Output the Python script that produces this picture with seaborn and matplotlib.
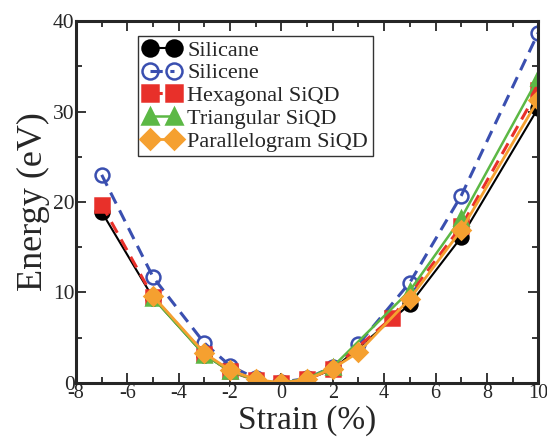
import numpy as np
import pandas as pd
import matplotlib
matplotlib.use("Agg")
import matplotlib.pyplot as plt
import seaborn as sns
from matplotlib.ticker import MultipleLocator

sns.set_style("ticks")
plt.rcParams['font.family'] = ['Liberation Serif', 'DejaVu Serif']
plt.rcParams['axes.unicode_minus'] = False

# Данные
silicane_x = [-7, -5, -3, -2, -1, 0, 1, 2, 5, 7, 10]
silicane_y = [18.9, 9.4, 3.1, 1.3, 0.3, 0.0, 0.4, 1.5, 8.7, 16.1, 30.4]

silicene_x = [-7, -5, -3, -2, -1, 0, 1, 2, 3, 5, 7, 10]
silicene_y = [23.0, 11.7, 4.4, 1.9, 0.5, 0.1, 0.5, 1.8, 4.3, 11.1, 20.7, 38.7]

hexagonal_x = [-7, -5, -3, -2, -1, 0, 1, 2, 4.3, 7, 10]
hexagonal_y = [19.7, 9.5, 3.2, 1.3, 0.3, 0.0, 0.4, 1.6, 7.2, 17.3, 32.4]

triangular_x = [-5, -3, -2, -1, 0, 1, 2, 5, 7, 10]
triangular_y = [9.4, 3.1, 1.3, 0.3, 0.0, 0.5, 1.8, 10.2, 18.2, 33.7]

parallelogram_x = [-5, -3, -2, -1, 0, 1, 2, 3, 5, 7, 10]
parallelogram_y = [9.6, 3.3, 1.4, 0.4, 0.0, 0.4, 1.6, 3.4, 9.3, 16.9, 31.3]

series = [
    ("Silicane", silicane_x, silicane_y, "black", "-", 1.5, "o", "black"),
    ("Silicene", silicene_x, silicene_y, "#3a4fb0", (0, (4, 2.5)), 2.2, "o", "none"),
    ("Hexagonal SiQD", hexagonal_x, hexagonal_y, "#e8302a", (0, (4, 2.5)), 2.2, "s", "#e8302a"),
    ("Triangular SiQD", triangular_x, triangular_y, "#5cb845", "-", 1.8, "^", "#5cb845"),
    ("Parallelogram SiQD", parallelogram_x, parallelogram_y, "#f5a030", "-", 2.0, "D", "#f5a030"),
]

fig = plt.figure(figsize=(5.47, 4.38), dpi=100)
ax = fig.add_axes([0.139, 0.1256, 0.845, 0.8264])

for name, xs, ys, col, ls, lw, mk, fc in series:
    df = pd.DataFrame({"x": xs, "y": ys})
    ms = 9 if mk == "D" else 10
    sns.lineplot(data=df, x="x", y="y", ax=ax, color=col, linestyle=ls, linewidth=lw,
                 marker=mk, markersize=ms, markerfacecolor=fc, markeredgecolor=col,
                 markeredgewidth=1.8, sort=False, label=name)

ax.set_xlim(-8, 10)
ax.set_ylim(0, 40)
ax.xaxis.set_major_locator(MultipleLocator(2))
ax.xaxis.set_minor_locator(MultipleLocator(1))
ax.yaxis.set_major_locator(MultipleLocator(10))
ax.yaxis.set_minor_locator(MultipleLocator(5))
ax.tick_params(which="both", direction="in", top=True, right=True, width=1.3,
               labelsize=15.5, pad=1)
ax.tick_params(axis="x", labelsize=14.5)
ax.tick_params(which="major", length=7)
ax.tick_params(which="minor", length=4)
for s in ax.spines.values():
    s.set_linewidth(2.2)

ax.set_xlabel("Strain (%)", fontsize=24, labelpad=1)
ax.set_ylabel("Energy (eV)", fontsize=26, labelpad=2)

leg = ax.legend(loc="upper left", bbox_to_anchor=(0.135, 0.96), numpoints=2,
                fontsize=16, handlelength=1.7, handletextpad=0.3, borderpad=0.2,
                labelspacing=0.1, markerscale=1.15, frameon=True, fancybox=False,
                edgecolor="black", borderaxespad=0)
leg.get_frame().set_linewidth(1.0)

fig.savefig("out.png", dpi=100)
